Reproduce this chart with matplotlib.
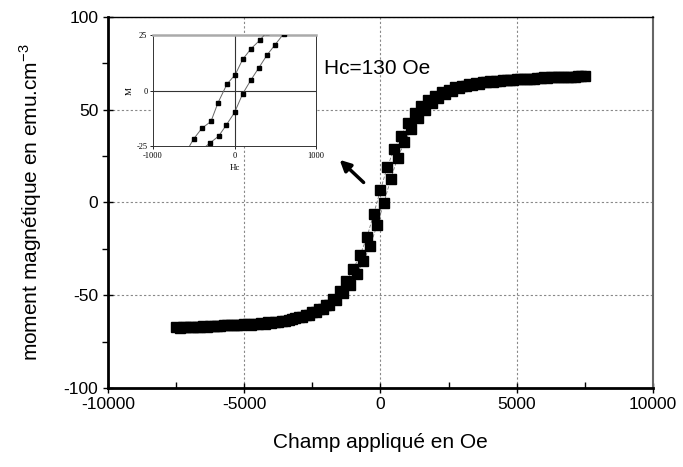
import matplotlib
matplotlib.use("Agg")
import matplotlib.pyplot as plt

plt.rcParams['font.family'] = ['Liberation Sans', 'DejaVu Sans']
plt.rcParams['axes.unicode_minus'] = False

# branche descendante (champ de +7500 a -7500 Oe)
h_desc = [7500, 7250, 7000, 6750, 6500, 6250, 6000, 5750, 5500, 5250,
          5000, 4750, 4500, 4250, 4000, 3750, 3500, 3250, 3000, 2750,
          2500, 2250, 2000, 1750, 1500, 1250, 1000, 750, 500, 250,
          0, -250, -500, -750, -1000, -1250, -1500, -1750, -2000, -2250,
          -2500, -2750, -3000, -3250, -3500, -3750, -4000, -4250, -4500, -4750,
          -5000, -5250, -5500, -5750, -6000, -6250, -6500, -6750, -7000, -7250,
          -7500]
m_desc = [68.1, 68.0, 67.9, 67.8, 67.6, 67.5, 67.4, 67.2, 66.5, 66.8,
          66.6, 66.3, 66.0, 65.7, 65.3, 64.9, 64.4, 63.8, 63.0, 62.1,
          60.9, 59.4, 57.5, 55.0, 52.0, 48.1, 42.6, 36.1, 28.7, 19.2,
          6.8, -6.2, -18.8, -28.3, -35.9, -42.4, -47.9, -51.9, -55.0, -57.4,
          -59.3, -60.8, -62.0, -63.0, -63.7, -64.4, -64.9, -65.3, -65.7, -66.0,
          -65.6, -65.9, -66.1, -66.3, -66.5, -66.7, -66.8, -66.9, -67.1, -67.2,
          -67.3]

# branche montante (champ de -7375 a +7375 Oe)
h_asc = [-7375, -7125, -6875, -6625, -6375, -6125, -5875, -5625, -5375, -5125,
         -4875, -4625, -4375, -4125, -3875, -3625, -3375, -3125, -2875, -2625,
         -2375, -2125, -1875, -1625, -1375, -1125, -875, -625, -375, -125,
         125, 375, 625, 875, 1125, 1375, 1625, 1875, 2125, 2375,
         2625, 2875, 3125, 3375, 3625, 3875, 4125, 4375, 4625, 4875,
         5125, 5375, 5625, 5875, 6125, 6375, 6625, 6875, 7125, 7375]
m_asc = [-67.4, -67.3, -67.2, -67.0, -66.9, -66.7, -66.5, -66.3, -66.0, -65.8,
         -65.5, -65.3, -65.0, -64.6, -64.2, -63.7, -63.1, -62.4, -61.6, -60.5,
         -59.2, -57.5, -55.3, -52.5, -49.0, -44.6, -38.5, -31.5, -23.2, -12.2,
         -0.3, 12.7, 23.9, 32.4, 39.4, 45.4, 49.9, 53.4, 56.2, 58.4,
         60.2, 61.5, 62.6, 63.4, 64.1, 64.7, 65.2, 65.5, 65.9, 66.2,
         66.5, 66.7, 66.4, 67.0, 67.3, 67.4, 67.6, 67.7, 67.9, 68.0]

# zoom du cycle (encart)
hz_desc = [400, 307, 200, 98, 8, -94, -205, -290, -400, -503, -600]
mz_desc = [26.5, 22.6, 18.8, 14.0, 7.2, 2.9, -5.6, -13.9, -16.9, -21.8, -28.0]
hz_asc = [-400, -299, -196, -102, 0, 98, 200, 294, 397, 495, 600]
mz_asc = [-26.5, -23.5, -20.5, -15.5, -9.8, -1.5, 4.8, 10.1, 16.0, 20.6, 25.5]

fig = plt.figure(figsize=(6.83, 4.67), dpi=100)
ax = fig.add_axes([0.1581, 0.1692, 0.798, 0.7944])

for h, m in [(h_desc, m_desc), (h_asc, m_asc)]:
    ax.plot(h, m, color='#777777', lw=0.6, ls=(0, (4, 2)), zorder=2)
for h, m in [(h_desc, m_desc), (h_asc, m_asc)]:
    ax.plot(h, m, ls='none', marker='s', ms=7.2, color='black', zorder=3)

ax.set_xlim(-10000, 10000)
ax.set_ylim(-100, 100)
ax.set_xticks([-10000, -5000, 0, 5000, 10000])
ax.set_yticks([-100, -50, 0, 50, 100])
ax.set_xticks([-7500, -2500, 2500, 7500], minor=True)
ax.set_yticks([-75, -25, 25, 75], minor=True)
ax.tick_params(which='major', direction='inout', length=7, width=1, labelsize=12.5)
ax.tick_params(axis='x', which='minor', direction='in', length=4, width=1)
ax.tick_params(axis='y', which='minor', direction='out', length=4, width=1)
ax.tick_params(axis='x', pad=3)
ax.grid(True, which='major', color='#888888', ls=(0, (2, 2)), lw=0.8)

ax.spines['left'].set_linewidth(2)
ax.spines['bottom'].set_linewidth(2)
ax.spines['top'].set_linewidth(1)
ax.spines['right'].set_linewidth(1.5)
ax.spines['right'].set_color('#666666')

ax.set_xlabel('Champ appliqué en Oe', fontsize=15, labelpad=15)
ax.set_ylabel('moment magnétique en emu.cm$^{\\mathregular{-3}}$', fontsize=15, labelpad=14)

ax.text(-2070, 69.5, 'Hc=130 Oe', fontsize=15, ha='left', va='baseline', zorder=5)
ax.annotate('', xy=(-1500, 23), xytext=(-620, 10.8),
            arrowprops=dict(arrowstyle='-|>', color='black', lw=2.5,
                            mutation_scale=16, shrinkA=0, shrinkB=0))

# encart
ins = fig.add_axes([0.224, 0.687, 0.239, 0.238])
for h, m in [(hz_desc, mz_desc), (hz_asc, mz_asc)]:
    ins.plot(h, m, color='#666666', lw=0.7, marker='s', ms=2.2,
             mfc='black', mec='black', zorder=3)
ins.axhline(0, color='#333333', lw=0.8, zorder=1)
ins.axvline(0, color='#333333', lw=0.8, zorder=1)
ins.set_xlim(-1000, 1000)
ins.set_ylim(-25, 25)
ins.set_xticks([-1000, 0, 1000])
ins.set_yticks([-25, 0, 25])
ins.tick_params(labelsize=6, length=2, width=0.6, pad=2)
for lab in ins.get_xticklabels() + ins.get_yticklabels():
    lab.set_family('Liberation Serif')
for s in ['left', 'bottom', 'right']:
    ins.spines[s].set_linewidth(0.7)
    ins.spines[s].set_color('#333333')
ins.spines['top'].set_linewidth(1.8)
ins.spines['top'].set_color('#aaaaaa')
ins.set_xlabel('Hc', fontsize=6.5, family='Liberation Serif', labelpad=3)
ins.set_ylabel('M', fontsize=6.5, family='Liberation Serif', labelpad=2)

fig.savefig('out.png', dpi=100)
